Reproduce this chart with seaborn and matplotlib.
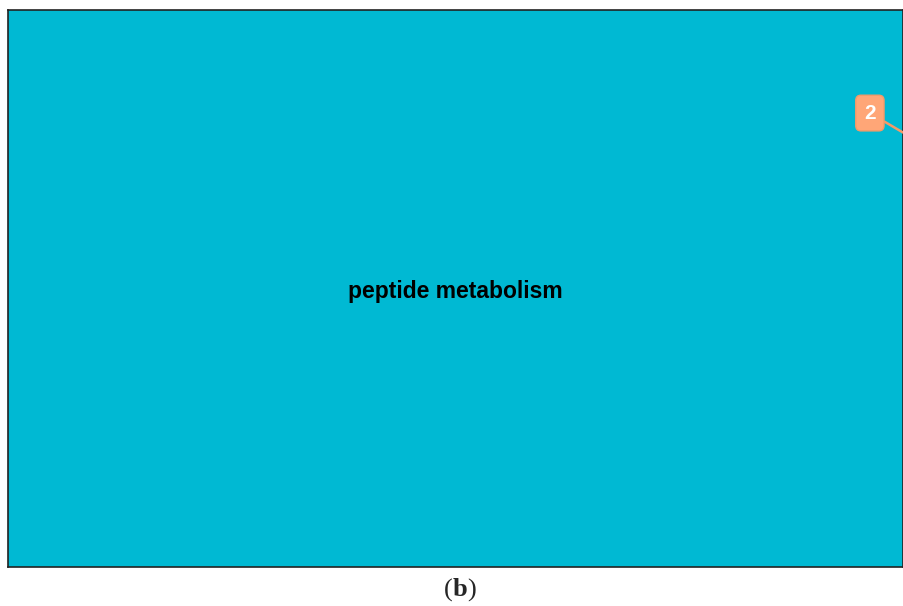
import matplotlib
matplotlib.use("Agg")
import matplotlib.pyplot as plt
import seaborn as sns

# treemap with a single category
categories = ["peptide metabolism"]
values = [2]
callout_label = "2"
panel_label = "b"

sns.set_style("white")
plt.rcParams['font.family'] = ['Liberation Sans', 'DejaVu Sans']

fig = plt.figure(figsize=(9.04, 6.06), dpi=100)
ax = fig.add_axes([8 / 904, 39 / 606, 895 / 904, 557 / 606])

sns.barplot(x=categories, y=values, color="#00B9D3", width=1.0,
            saturation=1, edgecolor="none", ax=ax)
ax.set_xlim(-0.5, 0.5)
ax.set_ylim(0, values[0])
ax.set_xlabel("")
ax.set_ylabel("")
ax.set_xticks([])
ax.set_yticks([])
for s in ax.spines.values():
    s.set_visible(True)
    s.set_color("#222222")
    s.set_linewidth(1.2)

# label in the cell
ax.text(0, values[0] * 0.495, categories[0], ha="center", va="center",
        fontsize=16.5, fontweight="bold", color="black")

# callout number
ax.annotate(callout_label, xy=(1.0, 0.78), xycoords="axes fraction",
            xytext=(0.963, 0.815), textcoords="axes fraction",
            ha="center", va="center", fontsize=15, fontweight="bold",
            color="white",
            bbox=dict(boxstyle="round,pad=0.4,rounding_size=0.25",
                      fc="#FFA677", ec="#F59A68", lw=1),
            arrowprops=dict(arrowstyle="-", color="#F59A68", lw=1.8,
                            shrinkA=0, shrinkB=0),
            annotation_clip=False)

# panel caption "(b)"
b = fig.text(460 / 904, 1 - 590 / 606, panel_label, ha="center", va="center",
             fontsize=19, fontweight="bold", family="Liberation Serif")
fig.canvas.draw()
ax.annotate("(", xy=(0, 0), xycoords=b, ha="right", va="bottom",
            fontsize=19, family="Liberation Serif", annotation_clip=False)
ax.annotate(")", xy=(1, 0), xycoords=b, ha="left", va="bottom",
            fontsize=19, family="Liberation Serif", annotation_clip=False)

fig.savefig("out.png", dpi=100, facecolor="white")
